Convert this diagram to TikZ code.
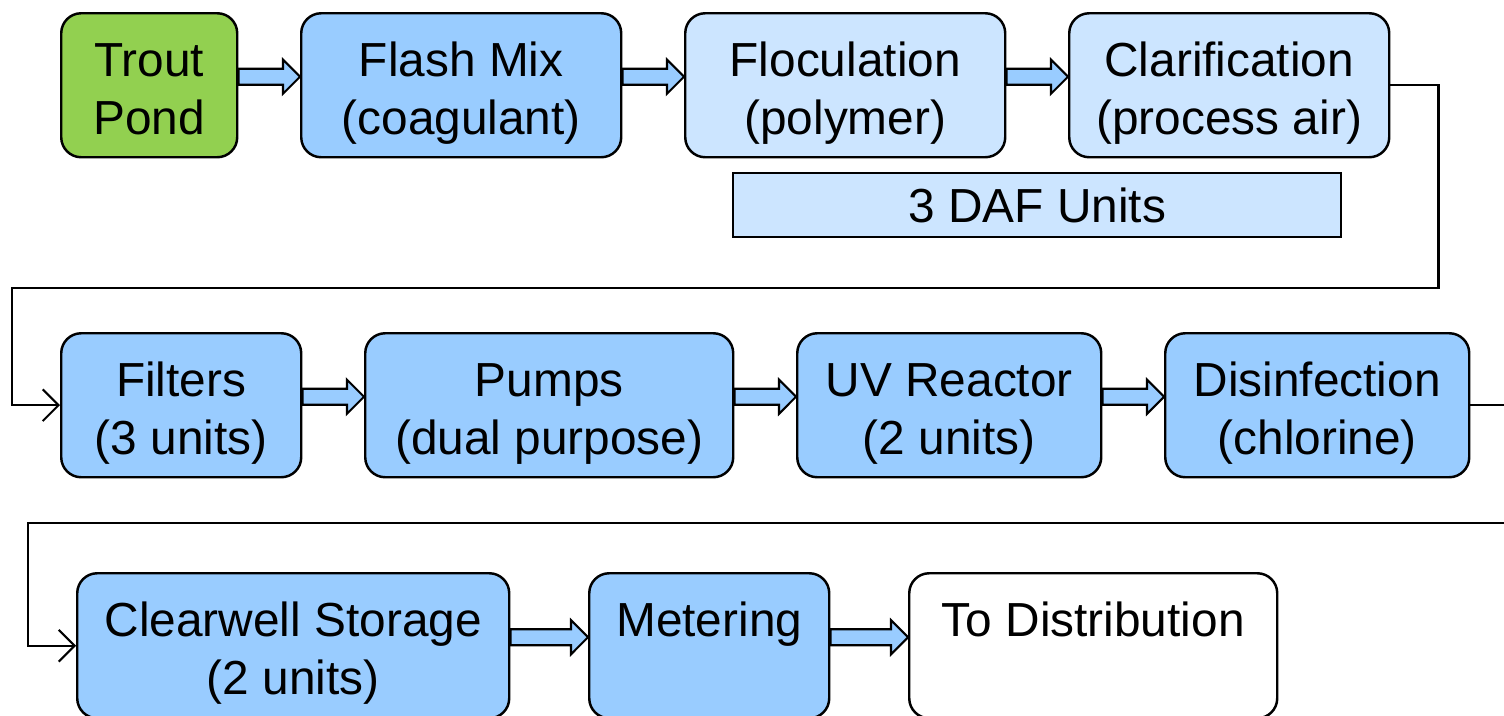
\documentclass[tikz,border=0pt]{standalone}
\usepackage{fontspec}
\setmainfont{Liberation Sans}
\usepackage{tikz}
\usetikzlibrary{calc}
\usetikzlibrary{arrows.meta}
\usetikzlibrary{positioning}

\definecolor{pondgreen}{HTML}{92D050}
\definecolor{stepblue}{HTML}{99CCFF}
\definecolor{paleblue}{HTML}{CCE5FF}

% taller first line, fixed last line depth
\newcommand{\topline}{\rule{0pt}{0.52cm}}
\newcommand{\lastline}{\rule[-0.12cm]{0pt}{0pt}}

\tikzstyle{unit}=[draw=black, line width=0.7pt, rounded corners=0.2cm,
                minimum height=1.44cm, anchor=north west, align=center, inner sep=0pt,
                font=\fontsize{13.6}{16.4}\selectfont]
\tikzstyle{daf}=[draw=black, line width=0.7pt, fill=paleblue, anchor=north west,
                minimum width=6.08cm, minimum height=0.64cm, inner sep=0pt,
                font=\fontsize{13.6}{16.4}\selectfont]
\tikzstyle{pipe}=[draw=black, fill=stepblue, line width=0.6pt, to path={
                ($(\tikztostart)+(0,0.165)$) -- ($(\tikztotarget)+(-0.17,0.165)$)
                -- ($(\tikztotarget)+(-0.17,0.255)$) -- ($(\tikztotarget)+(0,0.085)$)
                -- ($(\tikztotarget)+(-0.17,-0.085)$) -- ($(\tikztotarget)+(-0.17,0.005)$)
                -- ($(\tikztostart)+(0,0.005)$) -- cycle}]
\tikzstyle{flow}=[->, >={Straight Barb[length=4.5pt,width=9pt]}, line width=0.6pt]

\begin{document}
\begin{tikzpicture}
\useasboundingbox[fill=white] (0,0) rectangle (15.04,-7.15);
% first row
\node[unit, fill=pondgreen, minimum width=1.76cm] (trout) at (0.60,-0.12) {\topline Trout\\Pond\lastline};
\node[unit, fill=stepblue, minimum width=3.20cm] (flash) at (3.00,-0.12) {\topline Flash Mix\\(coagulant)\lastline};
\node[unit, fill=paleblue, minimum width=3.20cm] (floc) at (6.84,-0.12) {\topline Floculation\\(polymer)\lastline};
\node[unit, fill=paleblue, minimum width=3.20cm] (clar) at (10.68,-0.12) {\topline Clarification\\(process air)\lastline};
\node[daf] (dafunits) at (7.32,-1.72) {3 DAF Units};
% second row
\node[unit, fill=stepblue, minimum width=2.40cm] (filters) at (0.60,-3.32) {\topline Filters\\(3 units)\lastline};
\node[unit, fill=stepblue, minimum width=3.68cm] (pumps) at (3.64,-3.32) {\topline Pumps\\(dual purpose)\lastline};
\node[unit, fill=stepblue, minimum width=3.04cm] (uv) at (7.96,-3.32) {\topline UV Reactor\\(2 units)\lastline};
\node[unit, fill=stepblue, minimum width=3.04cm] (disinf) at (11.64,-3.32) {\topline Disinfection\\(chlorine)\lastline};
% third row
\node[unit, fill=stepblue, minimum width=4.32cm, minimum height=1.45cm] (clear) at (0.76,-5.72) {\topline Clearwell Storage\\(2 units)\lastline};
\node[unit, fill=stepblue, minimum width=2.40cm, minimum height=1.45cm] (meter) at (5.88,-5.72) {\topline Metering\\\lastline};
\node[unit, fill=white, minimum width=3.68cm, minimum height=1.45cm] (dist) at (9.08,-5.72) {\topline To Distribution\\\lastline};

\draw[pipe] (trout.east) to (flash.west);
\draw[pipe] (flash.east) to (floc.west);
\draw[pipe] (floc.east) to (clar.west);
\draw[pipe] (filters.east) to (pumps.west);
\draw[pipe] (pumps.east) to (uv.west);
\draw[pipe] (uv.east) to (disinf.west);
\draw[pipe] (clear.east) to (meter.west);
\draw[pipe] (meter.east) to (dist.west);

% row changes
\coordinate (bendA) at (0.12,-2.88);
\coordinate (bendB) at (0.28,-5.23);
\draw[flow] (clar.east) -- ++(0.48,0) |- (bendA) |- (filters.west);
\draw[flow] (disinf.east) -- ++(0.50,0) |- (bendB) |- (clear.west);
\end{tikzpicture}
\end{document}
